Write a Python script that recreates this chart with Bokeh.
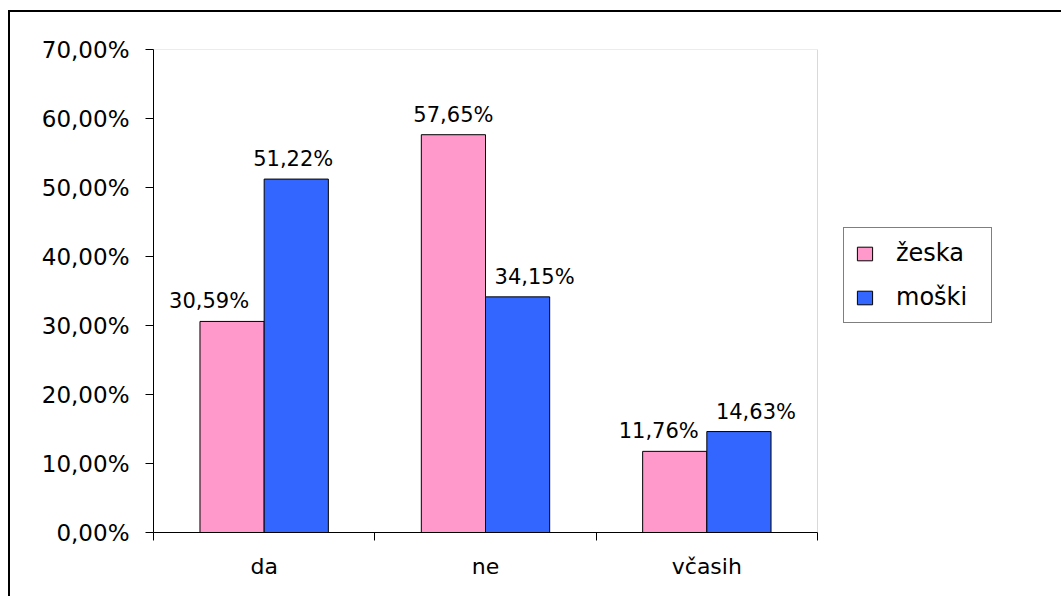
from bokeh.plotting import figure
from bokeh.models import (ColumnDataSource, Range1d, LinearAxis,
                          FixedTicker, CustomJSTickFormatter,
                          Legend, LegendItem, BoxAnnotation)
from bokeh.transform import dodge
from bokeh.core.properties import value
from bokeh.embed import file_html
from bokeh.resources import INLINE

# Survey answers by gender (share of respondents, %)
categories = ["da", "ne", "včasih"]
series_names = ["žeska", "moški"]
zenske = [30.59, 57.65, 11.76]
moski = [51.22, 34.15, 14.63]
y_ticks = [0, 10, 20, 30, 40, 50, 60, 70]
y_max = 70

# small horizontal nudges (px) for the value labels
zenske_nudge = [-23, 0, -16]
moski_nudge = [-3, 17, 17]

FONT = "DejaVu Sans"
PINK = "#FF99CC"
BLUE = "#3366FF"

# canvas geometry: the drawing frame runs to the right edge so the legend
# can live inside it; the bar area itself covers the first AREA_PX pixels
LEFT_PX = 143
FRAME_PX = 910
AREA_PX = 664


def pct(v):
    return f"{v:.2f}".replace(".", ",") + "%"


n = len(categories)
src = ColumnDataSource(dict(
    cat=categories,
    xc=[i + 0.5 for i in range(n)],          # centre of each category slot
    z=zenske, m=moski,
    z_lbl=[pct(v) for v in zenske],
    m_lbl=[pct(v) for v in moski],
    z_nudge=zenske_nudge, m_nudge=moski_nudge,
))

p = figure(
    x_range=Range1d(0, n * FRAME_PX / AREA_PX), y_range=Range1d(0, y_max),
    width=1053, height=586,
    output_backend="svg", toolbar_location=None,
    x_axis_location=None, y_axis_location=None,
    min_border_left=LEFT_PX, min_border_right=0,
    min_border_top=37, min_border_bottom=66,
    background_fill_color="white", border_fill_color="white",
)
p.styles = {
    "margin-left": "8px", "margin-top": "10px",
    "border-left": "2px solid #000", "border-top": "2px solid #000",
}
p.xgrid.visible = False
p.ygrid.visible = False
p.outline_line_color = None

# grey border of the bar area
p.add_layout(BoxAnnotation(left=0, right=n, bottom=0, top=y_max,
                           fill_alpha=0, line_color="#808080", line_width=1,
                           level="underlay"))

# value axis
yaxis = LinearAxis(
    ticker=FixedTicker(ticks=y_ticks),
    formatter=CustomJSTickFormatter(
        code="return tick.toFixed(2).replace('.', ',') + '%';"),
    axis_line_color="black", major_tick_line_color="black",
    major_tick_out=8, major_tick_in=0,
    minor_tick_out=0, minor_tick_in=0,
    major_label_standoff=16,
    major_label_text_font=FONT, major_label_text_font_size="23px",
    major_label_text_color="black",
)
p.add_layout(yaxis, "left")

# category boundaries carry the tick marks
edge_axis = LinearAxis(
    bounds=(0, n),
    ticker=FixedTicker(ticks=list(range(n + 1))),
    formatter=CustomJSTickFormatter(code="return '';"),
    axis_line_color="black", major_tick_line_color="black",
    major_tick_out=8, major_tick_in=0,
    minor_tick_out=0, minor_tick_in=0,
    major_label_standoff=0, major_label_text_font_size="1px",
)
p.add_layout(edge_axis, "below")

# category names at the slot centres
xaxis = LinearAxis(
    bounds=(0, n),
    ticker=FixedTicker(ticks=[i + 0.5 for i in range(n)]),
    formatter=CustomJSTickFormatter(args=dict(labels=categories),
                                    code="return labels[Math.floor(tick)];"),
    axis_line_color=None, major_tick_line_color=None,
    major_tick_out=0, major_tick_in=0,
    minor_tick_out=0, minor_tick_in=0,
    major_label_standoff=13,
    major_label_text_font=FONT, major_label_text_font_size="22px",
    major_label_text_color="black",
)
p.add_layout(xaxis, "below")

bw = 0.29
r_z = p.vbar(x=dodge("xc", -bw / 2), top="z", width=bw,
             source=src, fill_color=PINK, line_color="black", line_width=1)
r_m = p.vbar(x=dodge("xc", bw / 2), top="m", width=bw,
             source=src, fill_color=BLUE, line_color="black", line_width=1)

p.text(x=dodge("xc", -bw / 2), y="z", text="z_lbl",
       source=src, x_offset="z_nudge", y_offset=-20,
       text_font=value(FONT), text_font_size="21px", text_color="black",
       text_align="center", text_baseline="alphabetic")
p.text(x=dodge("xc", bw / 2), y="m", text="m_lbl",
       source=src, x_offset="m_nudge", y_offset=-20,
       text_font=value(FONT), text_font_size="21px", text_color="black",
       text_align="center", text_baseline="alphabetic")

legend = Legend(
    items=[LegendItem(label=series_names[0], renderers=[r_z]),
           LegendItem(label=series_names[1], renderers=[r_m])],
    location=(AREA_PX + 26, 209), orientation="vertical",
    border_line_color="black", border_line_width=1.3,
    background_fill_color="white", background_fill_alpha=1,
    label_text_font=FONT, label_text_font_size="24px",
    label_text_color="black",
    glyph_width=19, glyph_height=17,
    label_standoff=22, label_width=84,
    padding=11, spacing=16, margin=0,
)
p.add_layout(legend, "center")

open("out.html", "w").write(file_html(p, INLINE))
